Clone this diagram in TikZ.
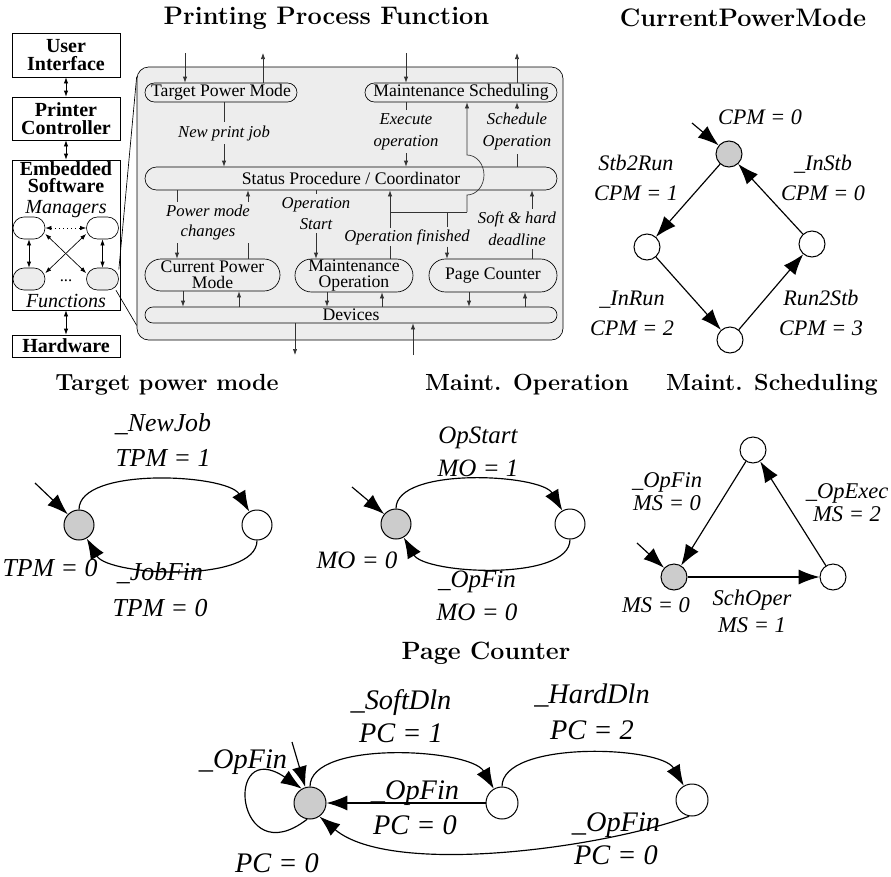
\documentclass[tikz,border=0pt]{standalone}
\usepackage{fontspec}
\newfontfamily\tms{Liberation Serif}
\usetikzlibrary{arrows.meta}

\begin{document}
\begin{tikzpicture}[x=0.6pt,y=0.6pt,
  ttl/.style={font=\fontsize{#1}{16}\selectfont\bfseries},
  lvl/.style={draw,minimum width=64.8pt,inner sep=0pt,align=center,
    font=\tms\fontsize{12}{11}\selectfont\bfseries},
  elab/.style={font=\tms\itshape\fontsize{12}{12}\selectfont,inner sep=0pt},
  mg/.style={draw,rounded corners=6.6pt,minimum width=19.2pt,minimum height=13.2pt,inner sep=0pt},
  pill/.style={draw,rounded corners=#1,inner sep=0pt,align=center,
    font=\tms\fontsize{10.6}{9.5}\selectfont},
  lbl/.style={font=\tms\itshape\fontsize{10}{13}\selectfont,align=center,inner sep=2pt},
  link/.style={black!80},
  arr/.style={black!80,-{Latex[length=3.6pt,width=2.6pt]}},
  darr/.style={{Latex[length=3.6pt,width=2.6pt]}-{Latex[length=3.6pt,width=2.6pt]}},
  st/.style={circle,draw,semithick,minimum size=#1,inner sep=0pt,fill=white},
  ini/.style={st=#1,fill=black!20},
  tr/.style={line width=0.7pt,-{Latex[length=12.5pt,width=9pt]}},
  sl/.style={font=\tms\itshape\fontsize{#1}{#1}\selectfont,align=center,inner sep=0pt}]

  \useasboundingbox (0,0) rectangle (891,-877);

  \node[ttl=15.2] (tppf) at (326.5,-18) {Printing Process Function};
  \node[ttl=15.2] (tcpm) at (743,-18) {CurrentPowerMode};
  \node[ttl=14] (ttpm) at (167,-385) {Target power mode};
  \node[ttl=14] (tmo) at (527,-385) {Maint. Operation};
  \node[ttl=14] (tms) at (772,-385) {Maint. Scheduling};
  \node[ttl=15] (tpgc) at (486,-653) {Page Counter};

  \node[lvl,minimum height=26.4pt] (ui) at (66,-55) {User\\Interface};
  \node[lvl,minimum height=25.8pt] (ctl) at (66,-118.5) {Printer\\Controller};
  \node[lvl,minimum height=90pt] (es) at (66,-235) {};
  \node[lvl,minimum height=13.2pt] (hw) at (66,-346) {Hardware};
  \node[lvl,draw=none,font=\tms\fontsize{12}{10.6}\selectfont\bfseries] (esl) at (66,-177) {Embedded\\Software};
  \node[elab] (mgl) at (66,-209) {Managers};
  \node[elab] (fnl) at (66,-301) {Functions};
  \node[mg] (m1) at (29,-228) {};
  \node[mg] (m2) at (102.5,-228) {};
  \node[mg,fill=black!7] (f1) at (29,-279) {};
  \node[mg,fill=black!7] (f2) at (102.5,-279) {};
  \node[font=\tms,inner sep=0pt] (dts) at (66,-281) {...};
  \draw[darr] (ui) -- (ctl);
  \draw[darr] (ctl) -- (es);
  \draw[darr] (es) -- (hw);
  \draw[darr,dotted] (m1) -- (m2);
  \draw[darr] (m1) -- (f1);
  \draw[darr] (m2) -- (f2);
  \draw[darr] (m1.-20) -- (f2.160);
  \draw[darr] (m2.200) -- (f1.20);

  \node[draw,fill=black!7,rounded corners=7pt,minimum width=255.6pt,minimum height=163.8pt] (gb) at (350,-203.5) {};
  \draw (f2.30) -- ([yshift=-6pt]gb.north west);
  \draw (f2.-40) -- ([yshift=9pt]gb.south west);

  \node[pill=5.7pt,minimum width=91.2pt,minimum height=11.4pt] (tpm) at (221,-92.5) {Target Power Mode};
  \node[pill=5.7pt,minimum width=115.2pt,minimum height=11.4pt] (ms) at (461,-92.5) {Maintenance Scheduling};
  \node[pill=6.9pt,minimum width=247.2pt,minimum height=13.8pt] (sp) at (351,-178.5) {Status Procedure / Coordinator};
  \node[pill=9.6pt,minimum width=81pt,minimum height=19.2pt] (cpm) at (212.5,-275) {Current Power\\Mode};
  \node[pill=9.9pt,minimum width=70.8pt,minimum height=19.8pt] (mo) at (354,-275.5) {Maintenance\\Operation};
  \node[pill=9.9pt,minimum width=76.8pt,minimum height=19.8pt] (pgc) at (493,-275.5) {Page Counter};
  \node[pill=4.8pt,minimum width=247.2pt,minimum height=9.6pt] (dev) at (351,-315) {Devices};

  \coordinate (tpmi) at (185,-53);
  \coordinate (tpmo) at (263,-53);
  \coordinate (msi) at (406,-53);
  \coordinate (mso) at (517,-53);
  \coordinate (devo) at (295,-355);
  \coordinate (devi) at (413,-355);
  \draw[arr] (tpmi) -- (tpmi |- tpm.north);
  \draw[arr] (tpmo |- tpm.north) -- (tpmo);
  \draw[arr] (msi) -- (msi |- ms.north);
  \draw[arr] (mso |- ms.north) -- (mso);
  \draw[arr] (devo |- dev.south) -- (devo);
  \draw[arr] (devi) -- (devi |- dev.south);

  \node[lbl] (npj) at (224,-133) {New print job};
  \node[lbl] (eop) at (406,-131.5) {Execute\\operation};
  \node[lbl] (sop) at (517,-131.5) {Schedule\\Operation};
  \node[lbl,font=\tms\itshape\fontsize{10}{11.5}\selectfont] (pmc) at (208,-222.5) {Power mode\\changes};
  \node[lbl,font=\tms\itshape\fontsize{10}{12.5}\selectfont] (ost) at (316,-213.5) {Operation\\Start};
  \node[lbl] (shd) at (517,-229) {Soft \& hard\\deadline};

  \draw[link] (tpm.south -| npj) -- (npj.north);
  \draw[arr] (npj.south) -- (sp.north -| npj);
  \draw[link] (ms.south -| eop) -- (eop.north);
  \draw[arr] (eop.south) -- (sp.north -| eop);
  \draw[link] (sp.north -| sop) -- (sop.south);
  \draw[arr] (sop.north) -- (ms.south -| sop);

  \coordinate (pmd) at (177,0);
  \coordinate (pmu) at (248,0);
  \draw[link] (sp.south -| pmd) -- (pmc.north -| pmd);
  \draw[arr] (pmc.south -| pmd) -- (cpm.north -| pmd);
  \draw[link] (cpm.north -| pmu) -- (pmc.south -| pmu);
  \draw[arr] (pmc.north -| pmu) -- (sp.south -| pmu);

  \draw[link] (sp.south -| ost) -- (ost.north);
  \draw[arr] (ost.south) -- (mo.north -| ost);

  \coordinate (ja) at (390,-212);
  \coordinate (jb) at (447,-212);
  \coordinate (jc) at (467,-212);
  \draw[arr] (mo.north -| ja) -- (sp.south -| ja);
  \draw[link] (ja) -- (jc);
  \draw[arr] (jc) -- ++(0,17) arc[start angle=-90,end angle=90,x radius=10.2pt,y radius=12pt] -- (ms.south -| jc);
  \node[lbl,fill=black!7,inner sep=1pt] (ofn) at (407,-237) {Operation finished};
  \draw[link] (jb) -- (ofn.north -| jb);
  \draw[arr] (ofn.south -| jb) -- (pgc.north -| jb);

  \coordinate (sdl) at (532,0);
  \draw[link] (pgc.north -| sdl) -- (shd.south -| sdl);
  \draw[arr] (shd.north -| sdl) -- (sp.south -| sdl);

  \foreach \xd/\f in {183/cpm,327/mo,469/pgc} {
    \coordinate (q) at (\xd,0);
    \draw[arr] (\f.south -| q) -- (dev.north -| q);
  }
  \foreach \xu/\f in {239/cpm,382/mo,525/pgc} {
    \coordinate (q) at (\xu,0);
    \draw[arr] (dev.north -| q) -- (\f.south -| q);
  }

  \node[ini=15.6pt] (c0) at (729,-154) {};
  \node[st=15.6pt] (c1) at (647,-247) {};
  \node[st=15.6pt] (c2) at (730,-340) {};
  \node[st=15.6pt] (c3) at (812,-244) {};
  \coordinate (ci) at (692,-123);
  \draw[tr] (ci) -- (c0);
  \draw[tr] (c0) -- (c1);
  \draw[tr] (c1) -- (c2);
  \draw[tr] (c2) -- (c3);
  \draw[tr] (c3) -- (c0);
  \node[sl=13.3] (cl0) at (760,-117) {CPM = 0};
  \node[sl=13.3] (cl1) at (636,-178) {Stb2Run\\[4.7pt]CPM = 1};
  \node[sl=13.3] (cl2) at (823,-178) {\_InStb\\[4.7pt]CPM = 0};
  \node[sl=13.3] (cl3) at (632,-313) {\_InRun\\[4.7pt]CPM = 2};
  \node[sl=13.3] (cl4) at (821,-313) {Run2Stb\\[4.7pt]CPM = 3};

  \node[ini=18pt] (tp0) at (79,-525) {};
  \node[st=18pt] (tp1) at (257,-525) {};
  \coordinate (tpi) at (35,-483);
  \draw[tr] (tpi) -- (tp0);
  \draw[tr] (tp0.north) to[out=90,in=120,looseness=0.65] (tp1.120);
  \draw[tr] (tp1.south) to[out=-90,in=-60,looseness=0.65] (tp0.-60);
  \node[sl=15.5] (tl1) at (163,-440.5) {\_NewJob\\[5.5pt]TPM = 1};
  \node[sl=15.5] (tl0) at (50,-568) {TPM = 0};
  \node[sl=15.5] (tl2) at (160,-590) {\_JobFin\\[6pt]TPM = 0};

  \node[ini=18pt] (mo0) at (396,-524) {};
  \node[st=18pt] (mo1) at (570,-524) {};
  \coordinate (moi) at (352,-487);
  \draw[tr] (moi) -- (mo0);
  \draw[tr] (mo0.north) to[out=90,in=120,looseness=0.65] (mo1.120);
  \draw[tr] (mo1.south) to[out=-90,in=-60,looseness=0.65] (mo0.-60);
  \node[sl=15] (ol1) at (478,-451.5) {OpStart\\[4.8pt]MO = 1};
  \node[sl=15] (ol0) at (357,-560) {MO = 0};
  \node[sl=15] (ol2) at (477,-596) {\_OpFin\\[4.5pt]MO = 0};

  \node[st=15.6pt] (ms2) at (753,-450) {};
  \node[ini=15.6pt] (ms0) at (674,-577) {};
  \node[st=15.6pt] (ms1) at (833,-577) {};
  \coordinate (msii) at (637,-543);
  \draw[tr] (msii) -- (ms0);
  \draw[tr] (ms2) -- (ms0);
  \draw[tr] (ms0) -- (ms1);
  \draw[tr] (ms1) -- (ms2);
  \node[sl=13.5] (msl1) at (667,-491.5) {\_OpFin\\[0.3pt]MS = 0};
  \node[sl=13.5] (msl2) at (847,-503) {\_OpExec\\[0.3pt]MS = 2};
  \node[sl=13.5] (msl3) at (752,-611.5) {SchOper\\[2.7pt]MS = 1};
  \node[sl=13.5] (msl0) at (656,-605) {MS = 0};

  \node[ini=19.2pt] (pg0) at (310,-803) {};
  \node[st=19.2pt] (pg1) at (502,-803) {};
  \node[st=19.2pt] (pg2) at (692,-800) {};
  \coordinate (pgi) at (292,-742);
  \draw[tr] (pgi) -- (pg0);
  \draw[tr] (pg0.-100) .. controls (235,-875) and (223,-735) .. (pg0.120);
  \draw[tr] (pg0.north) to[out=90,in=120,looseness=0.65] (pg1.120);
  \draw[tr] (pg1.north) to[out=90,in=120,looseness=0.65] (pg2.120);
  \draw[tr] (pg1) -- (pg0);
  \draw[tr] (pg2.-100) to[out=-160,in=-40,looseness=0.65] (pg0.-55);
  \node[sl=17] (gl1) at (401,-716.5) {\_SoftDln\\[2.8pt]PC = 1};
  \node[sl=17] (gl2) at (592,-712) {\_HardDln\\[4.6pt]PC = 2};
  \node[sl=17] (gl0) at (243,-762) {\_OpFin};
  \node[sl=17] (gl3) at (277,-863) {PC = 0};
  \node[sl=17] (gl4) at (415,-807.5) {\_OpFin\\[4pt]PC = 0};
  \node[sl=17] (gl5) at (616,-838.5) {\_OpFin\\[2.8pt]PC = 0};
\end{tikzpicture}
\end{document}
